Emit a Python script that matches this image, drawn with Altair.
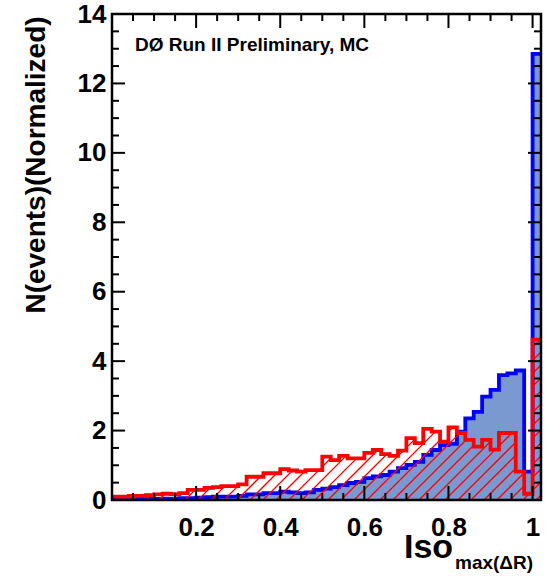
import altair as alt
import pandas as pd
import numpy as np

# ---- data ----
BIN_WIDTH = 0.02
X_MAX = 1.02
Y_MAX = 14

red_values = [0.10, 0.10, 0.12, 0.12, 0.14, 0.16, 0.18, 0.17, 0.20, 0.29,
              0.29, 0.35, 0.37, 0.40, 0.40, 0.45, 0.67, 0.67, 0.77, 0.77,
              0.89, 0.85, 0.82, 0.86, 0.86, 1.25, 1.15, 1.27, 1.20, 1.20,
              1.36, 1.44, 1.32, 1.27, 1.42, 1.78, 1.64, 2.05, 1.97, 1.68,
              2.09, 1.93, 1.73, 1.54, 1.73, 1.45, 1.93, 1.93, 0.82, 0.18,
              4.62]
blue_values = [0.02, 0.02, 0.02, 0.03, 0.03, 0.03, 0.04, 0.04, 0.05, 0.05,
               0.07, 0.08, 0.10, 0.10, 0.10, 0.12, 0.16, 0.16, 0.20, 0.20,
               0.24, 0.22, 0.20, 0.22, 0.29, 0.33, 0.37, 0.43, 0.49, 0.52,
               0.63, 0.68, 0.72, 0.82, 0.92, 1.01, 1.10, 1.30, 1.44, 1.58,
               1.62, 1.97, 2.35, 2.54, 2.98, 3.17, 3.60, 3.65, 3.73, 0.82,
               12.85]

x_label_values = [0.2, 0.4, 0.6, 0.8, 1.0]
x_minor_ticks = [0.05, 0.1, 0.15, 0.25, 0.3, 0.35, 0.45, 0.5, 0.55, 0.65,
                 0.7, 0.75, 0.85, 0.9, 0.95]
y_label_values = [0, 2, 4, 6, 8, 10, 12, 14]
y_major_ticks = [2, 4, 6, 8, 10, 12]
y_minor_ticks = [0.5, 1, 1.5, 2.5, 3, 3.5, 4.5, 5, 5.5, 6.5, 7, 7.5, 8.5, 9,
                 9.5, 10.5, 11, 11.5, 12.5, 13, 13.5]

title_text = "DØ Run II Preliminary, MC"
y_title = "N(events)(Normalized)"
x_title_main = "Iso"
x_title_sub = "max(ΔR)"

# ---- layout ----
W, H = 429, 486
PAD = {"left": 112, "top": 14, "right": 8, "bottom": 76}
FONT = "Liberation Sans"
BLUE_LINE = "#0000ff"
BLUE_FILL = "#7b99d1"
RED = "#ff0000"


def step_frame(values):
    xs = [i * BIN_WIDTH for i in range(len(values))] + [len(values) * BIN_WIDTH]
    ys = list(values) + [values[-1]]
    return pd.DataFrame({"x": xs, "y": ys})


blue_df = step_frame(blue_values)
red_df = step_frame(red_values)

# hatch lines ("/" at 45 degrees on screen) clipped to the red histogram
px_x = W / X_MAX
px_y = H / Y_MAX
HATCH = 13.0
hatch_rows = []
for c in np.arange(-H - 2 * HATCH, W + 2 * HATCH, HATCH):
    cur = None
    for i, h in enumerate(red_values):
        x0, x1 = i * BIN_WIDTH, (i + 1) * BIN_WIDTH
        a = max(x0, c / px_x)
        b = min(x1, (h * px_y + c) / px_x)
        if b > a:
            if cur is not None and abs(cur[1] - a) < 1e-9:
                cur[1] = b
            else:
                if cur is not None:
                    hatch_rows.append((cur[0], cur[1], c))
                cur = [a, b]
        else:
            if cur is not None:
                hatch_rows.append((cur[0], cur[1], c))
                cur = None
    if cur is not None:
        hatch_rows.append((cur[0], cur[1], c))

hatch_df = pd.DataFrame({
    "x": [r[0] for r in hatch_rows],
    "x2": [r[1] for r in hatch_rows],
    "y": [(r[0] * px_x - r[2]) / px_y for r in hatch_rows],
    "y2": [(r[1] * px_x - r[2]) / px_y for r in hatch_rows],
})

xscale = alt.Scale(domain=[0, X_MAX], nice=False, zero=False)
yscale = alt.Scale(domain=[0, Y_MAX], nice=False, zero=False)

x_axis = alt.Axis(values=x_label_values, format="~g", title=None, labelPadding=14,
                  labelFlush=False)
y_axis = alt.Axis(values=y_label_values, format="d", title=None, labelPadding=6)

blue_area = alt.Chart(blue_df).mark_area(
    interpolate="step-after", color=BLUE_FILL, clip=True
).encode(
    x=alt.X("x:Q", scale=xscale, axis=x_axis),
    y=alt.Y("y:Q", scale=yscale, axis=y_axis),
)
blue_line = alt.Chart(blue_df).mark_line(
    interpolate="step-after", color=BLUE_LINE, strokeWidth=3.8, clip=True
).encode(x=alt.X("x:Q", scale=xscale), y=alt.Y("y:Q", scale=yscale))

hatch = alt.Chart(hatch_df).mark_rule(color=RED, strokeWidth=1.3, clip=True).encode(
    x=alt.X("x:Q", scale=xscale), x2="x2:Q",
    y=alt.Y("y:Q", scale=yscale), y2="y2:Q",
)
red_line = alt.Chart(red_df).mark_line(
    interpolate="step-after", color=RED, strokeWidth=3.8, clip=True
).encode(x=alt.X("x:Q", scale=xscale), y=alt.Y("y:Q", scale=yscale))


def xticks(vals, length):
    d = pd.DataFrame({"v": vals})
    bottom = alt.Chart(d).mark_rule(color="black", strokeWidth=2).encode(
        x=alt.X("v:Q", scale=xscale), y=alt.value(H), y2=alt.value(H - length))
    top = alt.Chart(d).mark_rule(color="black", strokeWidth=2).encode(
        x=alt.X("v:Q", scale=xscale), y=alt.value(0), y2=alt.value(length))
    return [bottom, top]


def yticks(vals, length):
    d = pd.DataFrame({"v": vals})
    left = alt.Chart(d).mark_rule(color="black", strokeWidth=2).encode(
        y=alt.Y("v:Q", scale=yscale), x=alt.value(0), x2=alt.value(length))
    right = alt.Chart(d).mark_rule(color="black", strokeWidth=2).encode(
        y=alt.Y("v:Q", scale=yscale), x=alt.value(W), x2=alt.value(W - length))
    return [left, right]


one = pd.DataFrame({"a": [0]})
frame = alt.Chart(one).mark_rect(filled=False, stroke="black", strokeWidth=2.5).encode(
    x=alt.value(0), x2=alt.value(W), y=alt.value(0), y2=alt.value(H))

label_txt = alt.Chart(one).mark_text(
    text=title_text, font=FONT, fontWeight="bold", fontSize=19, align="left",
    baseline="alphabetic", color="black"
).encode(x=alt.value(23), y=alt.value(37))

ytitle = alt.Chart(one).mark_text(
    text=y_title, font=FONT, fontWeight="bold", fontSize=28, angle=270,
    align="center", baseline="middle", color="black"
).encode(x=alt.value(-75), y=alt.value(151))

xtitle_main = alt.Chart(one).mark_text(
    text=x_title_main, font=FONT, fontWeight="bold", fontSize=34, align="left",
    baseline="alphabetic", color="black"
).encode(x=alt.value(292), y=alt.value(544))

xtitle_sub = alt.Chart(one).mark_text(
    text=x_title_sub, font=FONT, fontWeight="bold", fontSize=19, align="left",
    baseline="alphabetic", color="black"
).encode(x=alt.value(343), y=alt.value(555))

layers = [blue_area, blue_line, hatch, red_line]
layers += xticks(x_label_values, 14) + xticks(x_minor_ticks, 7)
layers += yticks(y_major_ticks, 13) + yticks(y_minor_ticks, 7)
layers += [frame, label_txt, ytitle, xtitle_main, xtitle_sub]

chart = alt.layer(*layers).properties(
    width=W, height=H, padding=PAD,
    autosize=alt.AutoSizeParams(type="none"),
    background="white",
).configure_view(stroke=None).configure_axis(
    domain=False, ticks=False, grid=False, labelFont=FONT, labelFontWeight="bold",
    labelFontSize=26, labelColor="black",
)

chart.save("out.html", embed_options={"renderer": "svg", "actions": False})
